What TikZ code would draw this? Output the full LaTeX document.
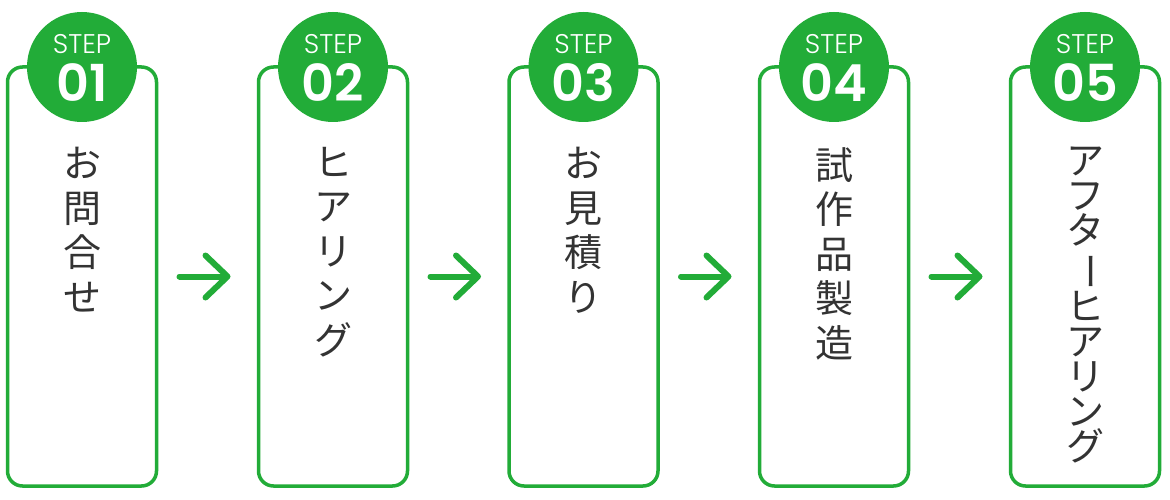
\documentclass[tikz,border=0pt]{standalone}
\usepackage{fontspec}
\usepackage{graphicx}
\usetikzlibrary{arrows.meta,positioning}
\setmainfont{Poppins}
\newfontfamily\steplight{Poppins Light}
\newfontfamily\stepsemi{Poppins SemiBold}
\newfontfamily\jpfont{Noto Sans CJK JP}
\definecolor{stepgreen}{RGB}{34,172,56}
\definecolor{ink}{RGB}{51,51,51}
\newcommand\chouon{\rotatebox[origin=c]{-90}{ー}}
\tikzset{
  >={Straight Barb[length=22pt,width=42pt,round]},
  stepbox/.style={draw=stepgreen,fill=white,line width=3.5pt,rounded corners=15pt,
    minimum width=149pt,minimum height=419pt,inner sep=0pt,outer sep=0pt},
  badge/.style={circle,fill=stepgreen,minimum size=110pt,inner sep=0pt},
  badge label/.style={text=white,font=\steplight\fontsize{27pt}{27pt}\selectfont,anchor=base,inner sep=0pt},
  badge num/.style={text=white,font=\stepsemi\fontsize{51pt}{51pt}\selectfont,anchor=base,inner sep=0pt},
  vtext/.style={text=ink,font=\jpfont\fontsize{38pt}{44.5pt}\selectfont,
    align=center,anchor=north,inner sep=0pt},
  flow/.style={->,draw=stepgreen,line width=6pt,line cap=round,shorten <=23pt,shorten >=28pt},
}

\begin{document}
\begin{tikzpicture}[x=1pt,y=-1pt]
  \useasboundingbox[fill=white] (0,0) rectangle (1170,500);
  % the five steps
  \foreach \i/\x in {1/82,2/333,3/583.5,4/834,5/1085} {
    \node[stepbox] (s\i) at (\x,276.5) {};
    \node[badge] (c\i) at (s\i.north) {};
    \node[badge label] (l\i) at ([yshift=13pt]c\i.center) {STEP};
    \node[badge num] (n\i) at ([yshift=-35pt]c\i.center) {0\i};
  }
  \node[vtext] (t1) at ([yshift=-80pt]s1.north) {お\\問\\合\\せ};
  \node[vtext] (t2) at ([yshift=-80pt]s2.north) {ヒ\\ア\\リ\\ン\\グ};
  \node[vtext] (t3) at ([yshift=-80pt]s3.north) {お\\見\\積\\り};
  \node[vtext] (t4) at ([yshift=-80pt]s4.north) {試\\作\\品\\製\\造};
  \node[vtext,font=\jpfont\fontsize{38pt}{35pt}\selectfont] (t5) at ([yshift=-80pt]s5.north)
    {ア\\フ\\タ\\\chouon\\ヒ\\ア\\リ\\ン\\グ};
  % arrows between the steps
  \foreach \i [count=\j from 2] in {1,...,4}
    \draw[flow] (s\i) -- (s\j);
\end{tikzpicture}
\end{document}
